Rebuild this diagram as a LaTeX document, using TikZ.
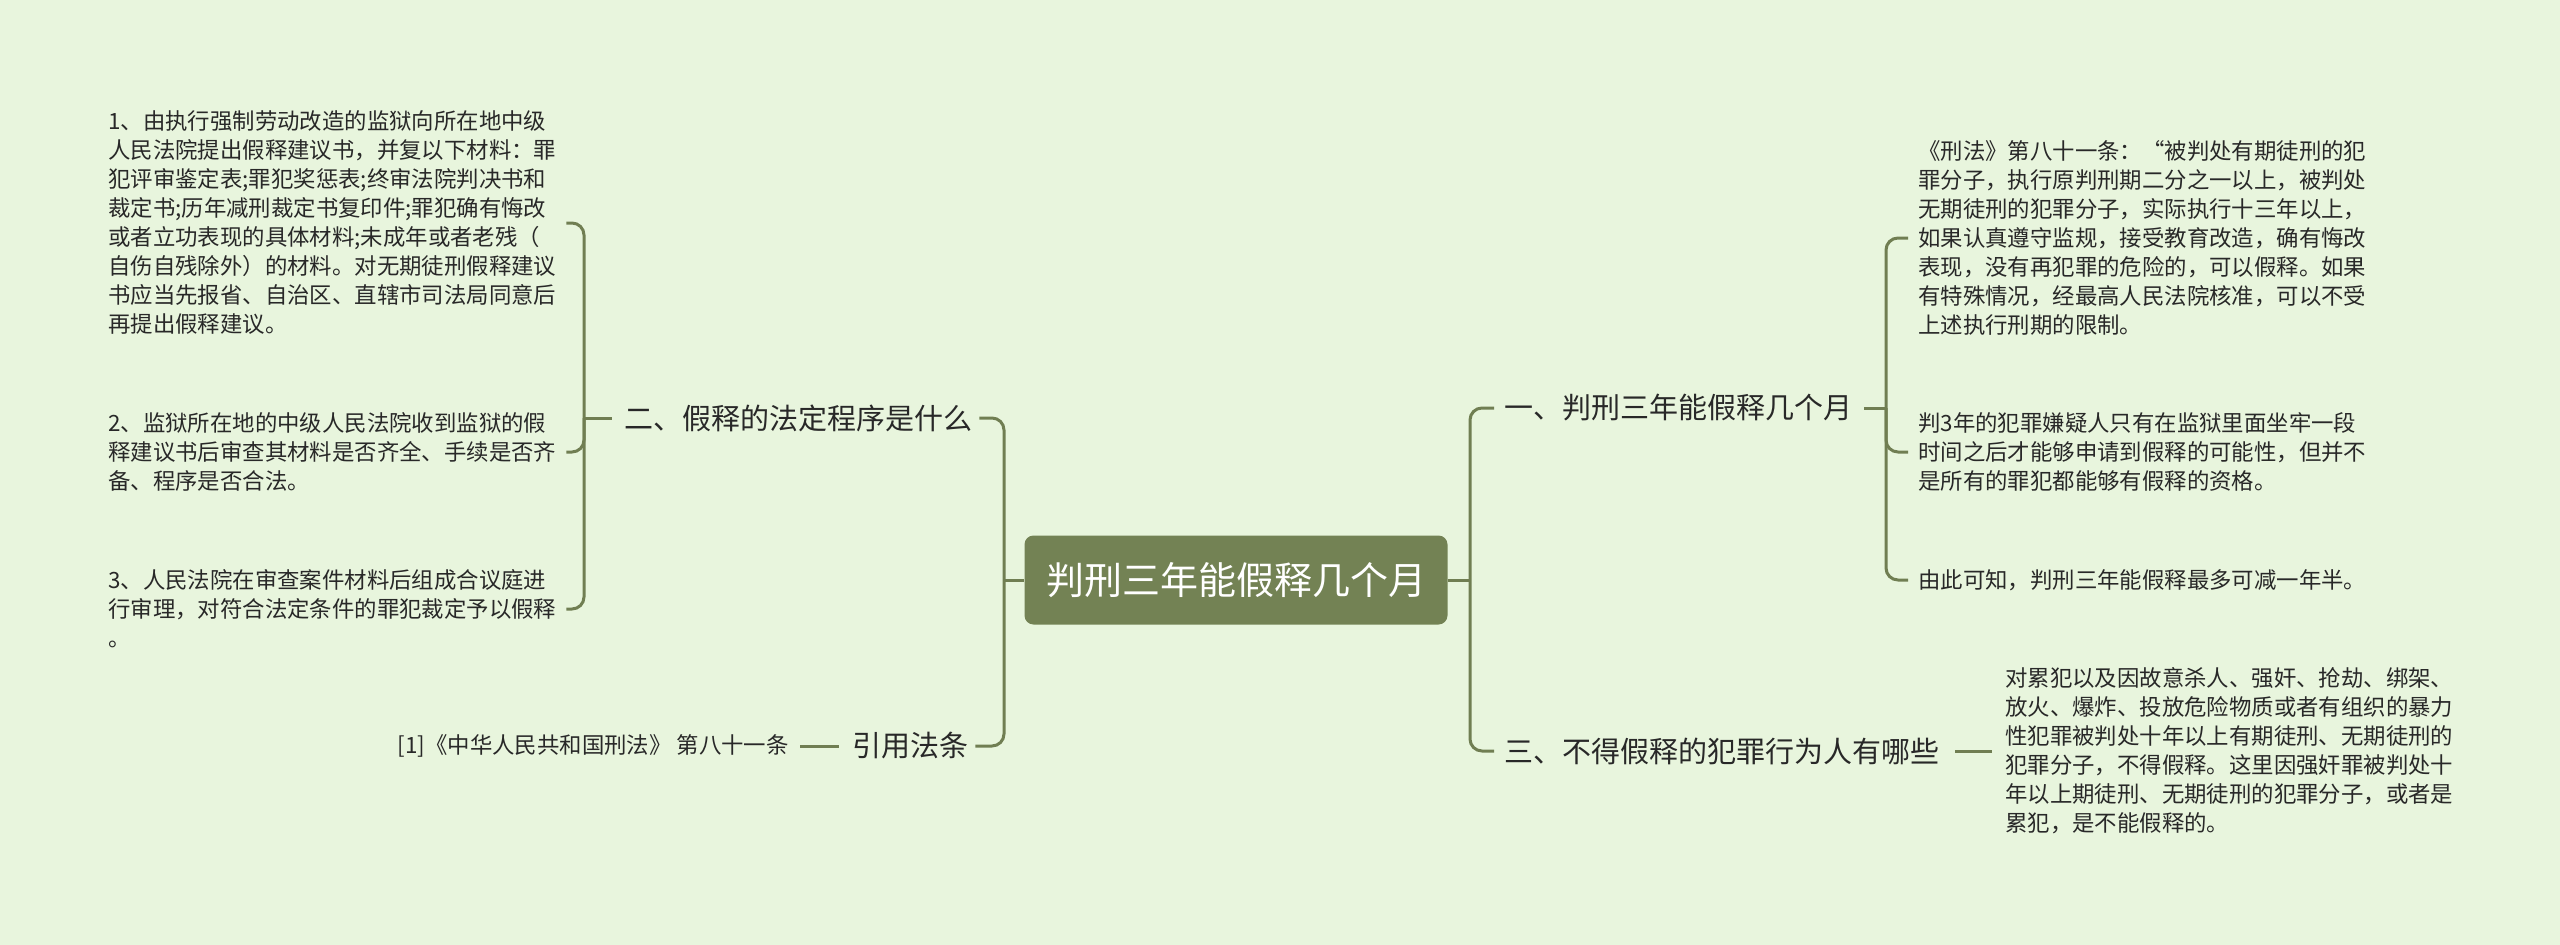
\documentclass[tikz,border=0pt]{standalone}
\usepackage{fontspec}
\setmainfont{Noto Sans CJK SC}
\definecolor{bgC}{RGB}{232,245,221}
\definecolor{boxC}{RGB}{115,130,84}
\definecolor{lineC}{RGB}{112,126,82}
\definecolor{txtC}{RGB}{40,40,40}
\begin{document}
\begin{tikzpicture}[x=1pt,y=-1pt,
  conn/.style={draw=lineC, line width=3pt, rounded corners=12pt},
  body/.style={font=\fontsize{22.4}{29}\selectfont, text=txtC, align=left, inner sep=0pt, anchor=west},
  head/.style={font=\fontsize{29}{34}\selectfont, text=txtC, inner sep=0pt, anchor=west},
  root/.style={fill=boxC, rounded corners=9pt, minimum width=423pt, minimum height=89pt, inner sep=0pt,
    text=white, font=\fontsize{38}{44}\selectfont}
]
\fill[bgC] (0,0) rectangle (2560,945);
\useasboundingbox (0,0) rectangle (2560,945);

% central
\node[root] (c) at (1236,580) {判刑三年能假释几个月};

% left branch
\node[head] (n2) at (624,418) {二、假释的法定程序是什么};
\node[head] (n3) at (852,746) {引用法条};
\node[body, anchor=east] (cite) at (789,746) {[1]《中华人民共和国刑法》 第八十一条};

\node[body] (i1) at (108,223) {1、由执行强制劳动改造的监狱向所在地中级\\人民法院提出假释建议书，并复以下材料：罪\\犯评审鉴定表;罪犯奖惩表;终审法院判决书和\\裁定书;历年减刑裁定书复印件;罪犯确有悔改\\或者立功表现的具体材料;未成年或者老残（\\自伤自残除外）的材料。对无期徒刑假释建议\\书应当先报省、自治区、直辖市司法局同意后\\再提出假释建议。};
\node[body] (i2) at (108,452) {2、监狱所在地的中级人民法院收到监狱的假\\释建议书后审查其材料是否齐全、手续是否齐\\备、程序是否合法。};
\node[body] (i3) at (108,609) {3、人民法院在审查案件材料后组成合议庭进\\行审理，对符合法定条件的罪犯裁定予以假释\\。};

% right branch
\node[head] (n1) at (1504,408) {一、判刑三年能假释几个月};
\node[head] (n4) at (1504,751) {三、不得假释的犯罪行为人有哪些};

\node[body] (r1) at (1918,238) {《刑法》第八十一条：“被判处有期徒刑的犯\\罪分子，执行原判刑期二分之一以上，被判处\\无期徒刑的犯罪分子，实际执行十三年以上，\\如果认真遵守监规，接受教育改造，确有悔改\\表现，没有再犯罪的危险的，可以假释。如果\\有特殊情况，经最高人民法院核准，可以不受\\上述执行刑期的限制。};
\node[body] (r2) at (1918,452) {判3年的犯罪嫌疑人只有在监狱里面坐牢一段\\时间之后才能够申请到假释的可能性，但并不\\是所有的罪犯都能够有假释的资格。};
\node[body] (r3) at (1918,580) {由此可知，判刑三年能假释最多可减一年半。};
\node[body] (t4) at (2005,751) {对累犯以及因故意杀人、强奸、抢劫、绑架、\\放火、爆炸、投放危险物质或者有组织的暴力\\性犯罪被判处十年以上有期徒刑、无期徒刑的\\犯罪分子，不得假释。这里因强奸罪被判处十\\年以上期徒刑、无期徒刑的犯罪分子，或者是\\累犯，是不能假释的。};

% spines
\coordinate (L) at (1004,580);
\coordinate (S2) at (584,418);
\coordinate (R) at (1470,580);
\coordinate (S1) at (1886,408);

% left connectors
\draw[conn] (L) -- (c.west);
\draw[conn] ([xshift=7pt]n2.east) -| (L) |- ([xshift=7pt]n3.east);
\draw[conn] ([xshift=10pt]i1.east) -| (S2) |- ([xshift=10pt]i3.east);
\draw[conn] ([xshift=10pt]i2.east) -| (S2);
\draw[conn] (S2) -- ([xshift=-12pt]n2.west);
\draw[conn] ([xshift=11pt]cite.east) -- ([xshift=-13pt]n3.west);

% right connectors
\draw[conn] (c.east) -- (R);
\draw[conn] ([xshift=-10pt]n1.west) -| (R) |- ([xshift=-10pt]n4.west);
\draw[conn] ([xshift=12pt]n1.east) -- (S1);
\draw[conn] ([xshift=-10pt]r1.west) -| (S1) |- ([xshift=-10pt]r3.west);
\draw[conn] ([xshift=-10pt]r2.west) -| (S1);
\draw[conn] ([xshift=16pt]n4.east) -- ([xshift=-13pt]t4.west);
\end{tikzpicture}
\end{document}
